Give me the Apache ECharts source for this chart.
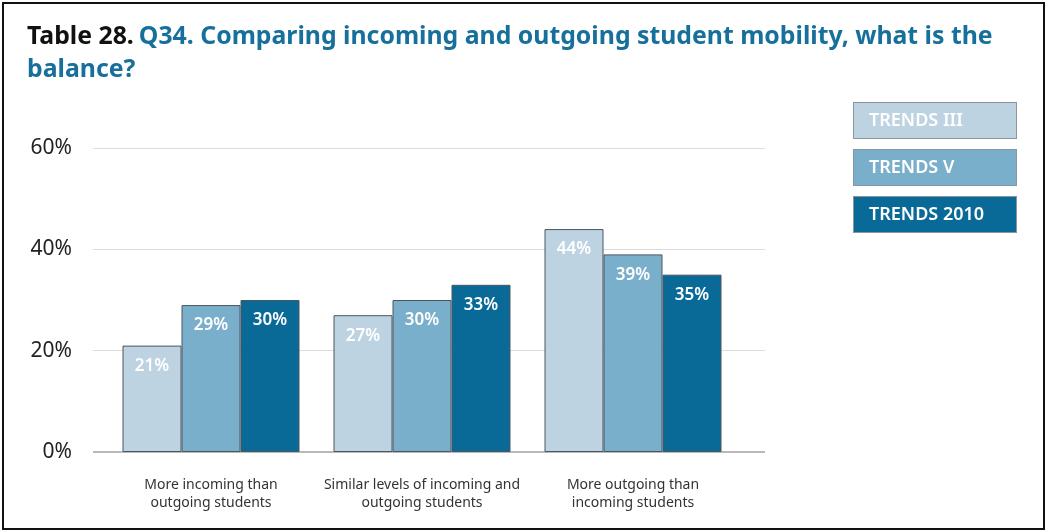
<!DOCTYPE html>
<html>
<head>
<meta charset="utf-8">
<script src="https://cdn.jsdelivr.net/npm/echarts@6/dist/echarts.min.js"></script>
<style>
  html, body { margin: 0; padding: 0; background: #fff; }
  #chart { width: 1047px; height: 532px; }
  .frame {
    position: absolute; left: 2px; top: 2px;
    width: 1039px; height: 524px;
    border: 2px solid #111;
    pointer-events: none;
  }
</style>
</head>
<body>
<div id="chart"></div>
<div class="frame"></div>
<script>
const categories = [
  'More incoming than\noutgoing students',
  'Similar levels of incoming and\noutgoing students',
  'More outgoing than\nincoming students'
];
const seriesNames = ['TRENDS III', 'TRENDS V', 'TRENDS 2010'];
const trends3 = [21, 27, 44];
const trends5 = [29, 30, 39];
const trends2010 = [30, 33, 35];
const yTicks = [0, 20, 40, 60];

const colors = ['#bdd3e2', '#7aafcb', '#0a6a97'];
const chart = echarts.init(document.getElementById('chart'));

function barSeries(name, data, color) {
  return {
    name: name,
    type: 'bar',
    xAxisIndex: 1,
    yAxisIndex: 1,
    data: data,
    barWidth: 59,
    barGap: '0%',
    itemStyle: { color: color, borderColor: '#4a5660', borderWidth: 1 },
    label: {
      show: true,
      position: 'insideTop',
      distance: 12,
      formatter: '{c}%',
      color: '#fff',
      fontFamily: 'Noto Sans',
      fontWeight: 600,
      fontSize: 17
    },
    emphasis: { disabled: true }
  };
}

const option = {
  animation: false,
  title: {
    left: 22,
    top: 15,
    text: '{b|Table 28.} {t|Q34. Comparing incoming and outgoing student mobility, what is the}\n{t|balance?}',
    textStyle: {
      rich: {
        b: { color: '#111', fontSize: 24.8, fontWeight: 'bold', fontFamily: 'Noto Sans', lineHeight: 33 },
        t: { color: '#17709b', fontSize: 24.8, fontWeight: 'bold', fontFamily: 'Noto Sans', lineHeight: 33 }
      }
    }
  },
  legend: {
    orient: 'vertical',
    left: 843,
    top: 97,
    itemGap: 10,
    itemWidth: 0,
    itemHeight: 0,
    selectedMode: false,
    data: seriesNames.map(function (n, i) {
      return {
        name: n,
        icon: 'rect',
        textStyle: {
          color: '#fff',
          backgroundColor: colors[i],
          borderColor: '#8a969e',
          borderWidth: 1,
          width: 147,
          height: 35,
          lineHeight: 35,
          padding: [0, 0, 0, 15],
          fontSize: 18,
          fontWeight: 600,
          fontFamily: 'Noto Sans'
        }
      };
    })
  },
  grid: [
    { left: 93, right: 282, top: 148, bottom: 80 },
    { left: 105.5, right: 308.5, top: 148, bottom: 80 }
  ],
  xAxis: [
    {
      gridIndex: 0, type: 'value', min: 0, max: 1,
      axisLine: { show: false }, axisTick: { show: false },
      axisLabel: { show: false }, splitLine: { show: false }
    },
    {
      gridIndex: 1, type: 'category', data: categories,
      axisLine: { show: false }, axisTick: { show: false },
      axisLabel: {
        margin: 24, color: '#333', fontSize: 14, lineHeight: 18,
        fontFamily: 'Noto Sans', interval: 0
      }
    }
  ],
  yAxis: [
    {
      gridIndex: 0, type: 'value', min: yTicks[0], max: yTicks[yTicks.length - 1], interval: 20,
      axisLine: { show: false }, axisTick: { show: false },
      axisLabel: { formatter: '{value}%', color: '#222', fontSize: 21, margin: 21, fontFamily: 'Noto Sans',
        padding: [0, 0, 8, 0] },
      splitLine: { lineStyle: { color: '#dcdcdc', width: 1 } }
    },
    {
      gridIndex: 1, type: 'value', min: yTicks[0], max: yTicks[yTicks.length - 1], interval: 20,
      axisLine: { show: false }, axisTick: { show: false },
      axisLabel: { show: false }, splitLine: { show: false }
    }
  ],
  series: [
    {
      type: 'line', xAxisIndex: 0, yAxisIndex: 0, data: [[0, 0], [1, 0]],
      symbol: 'none', lineStyle: { color: '#b9b9b9', width: 2 }, silent: true, z: 1
    },
    barSeries(seriesNames[0], trends3, colors[0]),
    barSeries(seriesNames[1], trends5, colors[1]),
    barSeries(seriesNames[2], trends2010, colors[2])
  ]
};
chart.setOption(option);
</script>
</body>
</html>
